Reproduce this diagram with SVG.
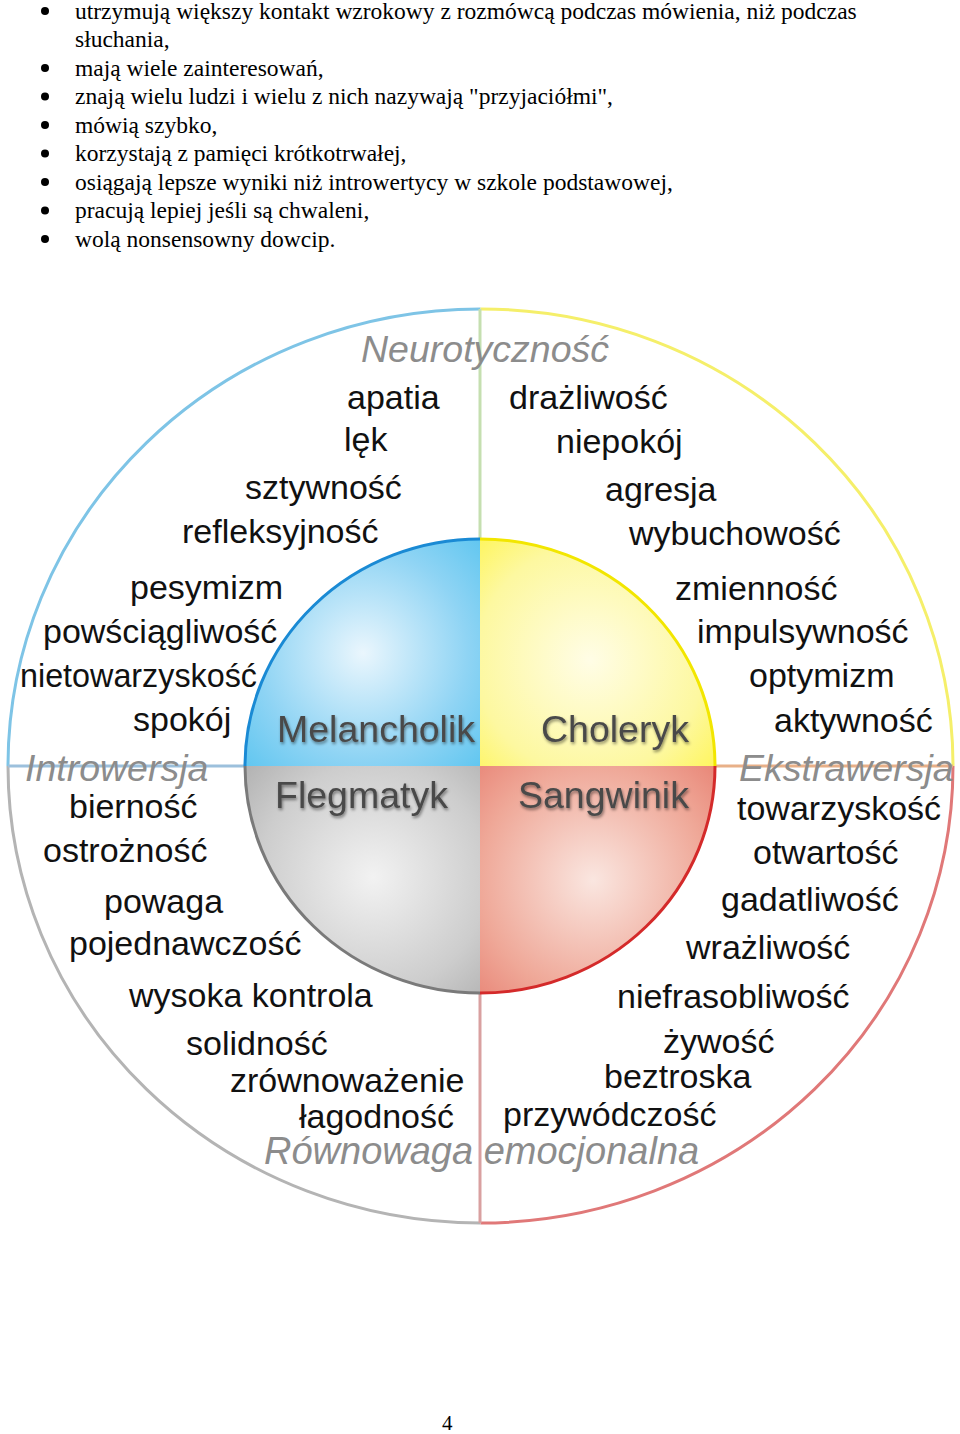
<svg xmlns="http://www.w3.org/2000/svg" width="960" height="1434" viewBox="0 0 960 1434">
<style>
.body{font-family:"Liberation Serif","Times New Roman",serif;font-size:23.5px;fill:#000}
.w{font-family:"Liberation Sans",Arial,sans-serif;font-size:34px;fill:#111}
.ax{font-family:"Liberation Sans",Arial,sans-serif;font-size:37.5px;font-style:italic;fill:#8c8c8c}
.tp{font-family:"Liberation Sans",Arial,sans-serif;font-size:37.5px;fill:#4a4a4a;filter:url(#sh)}
</style>
<defs>
<filter id="sh" x="-10%" y="-30%" width="120%" height="160%">
<feDropShadow dx="1" dy="2" stdDeviation="1.5" flood-color="#000" flood-opacity="0.45"/>
</filter>
<radialGradient id="gB" gradientUnits="userSpaceOnUse" cx="363" cy="653" r="190">
<stop offset="0" stop-color="#eaf6fd"/><stop offset="0.55" stop-color="#8fd4f4"/><stop offset="1" stop-color="#4cc0ee"/>
</radialGradient>
<radialGradient id="gY" gradientUnits="userSpaceOnUse" cx="590" cy="660" r="190">
<stop offset="0" stop-color="#fffde6"/><stop offset="0.6" stop-color="#fdf8a0"/><stop offset="1" stop-color="#fff43c"/>
</radialGradient>
<radialGradient id="gG" gradientUnits="userSpaceOnUse" cx="373" cy="877" r="190">
<stop offset="0" stop-color="#f2f2f2"/><stop offset="0.6" stop-color="#cdcdcd"/><stop offset="1" stop-color="#a8a8a8"/>
</radialGradient>
<radialGradient id="gR" gradientUnits="userSpaceOnUse" cx="593" cy="880" r="190">
<stop offset="0" stop-color="#fae6e0"/><stop offset="0.6" stop-color="#efa898"/><stop offset="1" stop-color="#e6786a"/>
</radialGradient>
</defs>

<g id="text-list">
<circle cx="45" cy="11" r="4"/><text class="body" x="75" y="19">utrzymują większy kontakt wzrokowy z rozmówcą podczas mówienia, niż podczas</text>
<text class="body" x="75" y="47">słuchania,</text>
<circle cx="45" cy="68" r="4"/><text class="body" x="75" y="75.5">mają wiele zainteresowań,</text>
<circle cx="45" cy="96.5" r="4"/><text class="body" x="75" y="104">znają wielu ludzi i wielu z nich nazywają "przyjaciółmi",</text>
<circle cx="45" cy="125" r="4"/><text class="body" x="75" y="132.5">mówią szybko,</text>
<circle cx="45" cy="153.5" r="4"/><text class="body" x="75" y="161">korzystają z pamięci krótkotrwałej,</text>
<circle cx="45" cy="182" r="4"/><text class="body" x="75" y="189.5">osiągają lepsze wyniki niż introwertycy w szkole podstawowej,</text>
<circle cx="45" cy="210.5" r="4"/><text class="body" x="75" y="218">pracują lepiej jeśli są chwaleni,</text>
<circle cx="45" cy="239" r="4"/><text class="body" x="75" y="247">wolą nonsensowny dowcip.</text>
</g>

<g id="outer-circle" fill="none" stroke-width="3">
<path d="M8,766 A472.5,457 0 0 1 480.5,309" stroke="#7ec4e6"/>
<path d="M480.5,309 A472.5,457 0 0 1 953,766" stroke="#f5ef6a"/>
<path d="M953,766 A472.5,457 0 0 1 480.5,1223" stroke="#e07878"/>
<path d="M480.5,1223 A472.5,457 0 0 1 8,766" stroke="#b4b4b4"/>
</g>

<g id="connectors" fill="none" stroke-width="3">
<line x1="480" y1="309" x2="480" y2="540" stroke="#c5dfb0"/>
<line x1="480" y1="992" x2="480" y2="1223" stroke="#d9a0a0"/>
<line x1="8" y1="766" x2="246" y2="766" stroke="#9cc0dc"/>
<line x1="714" y1="766" x2="953" y2="766" stroke="#e8b088"/>
</g>

<g id="melancholik">
<path d="M480,766 L245,766 A235,227 0 0 1 480,539 Z" fill="url(#gB)"/>
<path d="M245,766 A235,227 0 0 1 480,539" fill="none" stroke="#1a8ad4" stroke-width="3"/>
<text class="tp" x="277" y="742">Melancholik</text>
</g>
<g id="choleryk">
<path d="M480,766 L480,539 A235,227 0 0 1 715,766 Z" fill="url(#gY)"/>
<path d="M480,539 A235,227 0 0 1 715,766" fill="none" stroke="#f2e600" stroke-width="3"/>
<text class="tp" x="541" y="742">Choleryk</text>
</g>
<g id="sangwinik">
<path d="M480,766 L715,766 A235,227 0 0 1 480,993 Z" fill="url(#gR)"/>
<path d="M715,766 A235,227 0 0 1 480,993" fill="none" stroke="#d42a2a" stroke-width="3"/>
<text class="tp" x="518" y="808">Sangwinik</text>
</g>
<g id="flegmatyk">
<path d="M480,766 L480,993 A235,227 0 0 1 245,766 Z" fill="url(#gG)"/>
<path d="M480,993 A235,227 0 0 1 245,766" fill="none" stroke="#7a7a7a" stroke-width="3"/>
<text class="tp" x="275" y="808">Flegmatyk</text>
</g>

<g id="axis-labels">
<text class="ax" x="361" y="362">Neurotyczność</text>
<text class="ax" x="25" y="781">Introwersja</text>
<text class="ax" x="739" y="781">Ekstrawersja</text>
<text class="ax" x="264" y="1164" style="font-size:38px">Równowaga emocjonalna</text>
</g>

<g id="traits-melancholik">
<text class="w" x="347" y="409">apatia</text>
<text class="w" x="344" y="451">lęk</text>
<text class="w" x="245" y="499">sztywność</text>
<text class="w" x="182" y="543">refleksyjność</text>
<text class="w" x="130" y="599">pesymizm</text>
<text class="w" x="43" y="643">powściągliwość</text>
<text class="w" x="20" y="687" textLength="237" lengthAdjust="spacingAndGlyphs">nietowarzyskość</text>
<text class="w" x="133" y="731">spokój</text>
</g>
<g id="traits-choleryk">
<text class="w" x="509" y="409">drażliwość</text>
<text class="w" x="556" y="453">niepokój</text>
<text class="w" x="605" y="501">agresja</text>
<text class="w" x="629" y="545">wybuchowość</text>
<text class="w" x="675" y="600">zmienność</text>
<text class="w" x="697" y="643">impulsywność</text>
<text class="w" x="749" y="687">optymizm</text>
<text class="w" x="774" y="732">aktywność</text>
</g>
<g id="traits-flegmatyk">
<text class="w" x="69" y="818">bierność</text>
<text class="w" x="43" y="862">ostrożność</text>
<text class="w" x="104" y="913">powaga</text>
<text class="w" x="69" y="955">pojednawczość</text>
<text class="w" x="129" y="1007">wysoka kontrola</text>
<text class="w" x="186" y="1055">solidność</text>
<text class="w" x="230" y="1092">zrównoważenie</text>
<text class="w" x="299" y="1128">łagodność</text>
</g>
<g id="traits-sangwinik">
<text class="w" x="737" y="820">towarzyskość</text>
<text class="w" x="753" y="864">otwartość</text>
<text class="w" x="721" y="911">gadatliwość</text>
<text class="w" x="686" y="959">wrażliwość</text>
<text class="w" x="617" y="1008">niefrasobliwość</text>
<text class="w" x="663" y="1053">żywość</text>
<text class="w" x="604" y="1088">beztroska</text>
<text class="w" x="503" y="1126">przywódczość</text>
</g>

<text class="body" x="442" y="1430" style="font-size:21px">4</text>
</svg>
